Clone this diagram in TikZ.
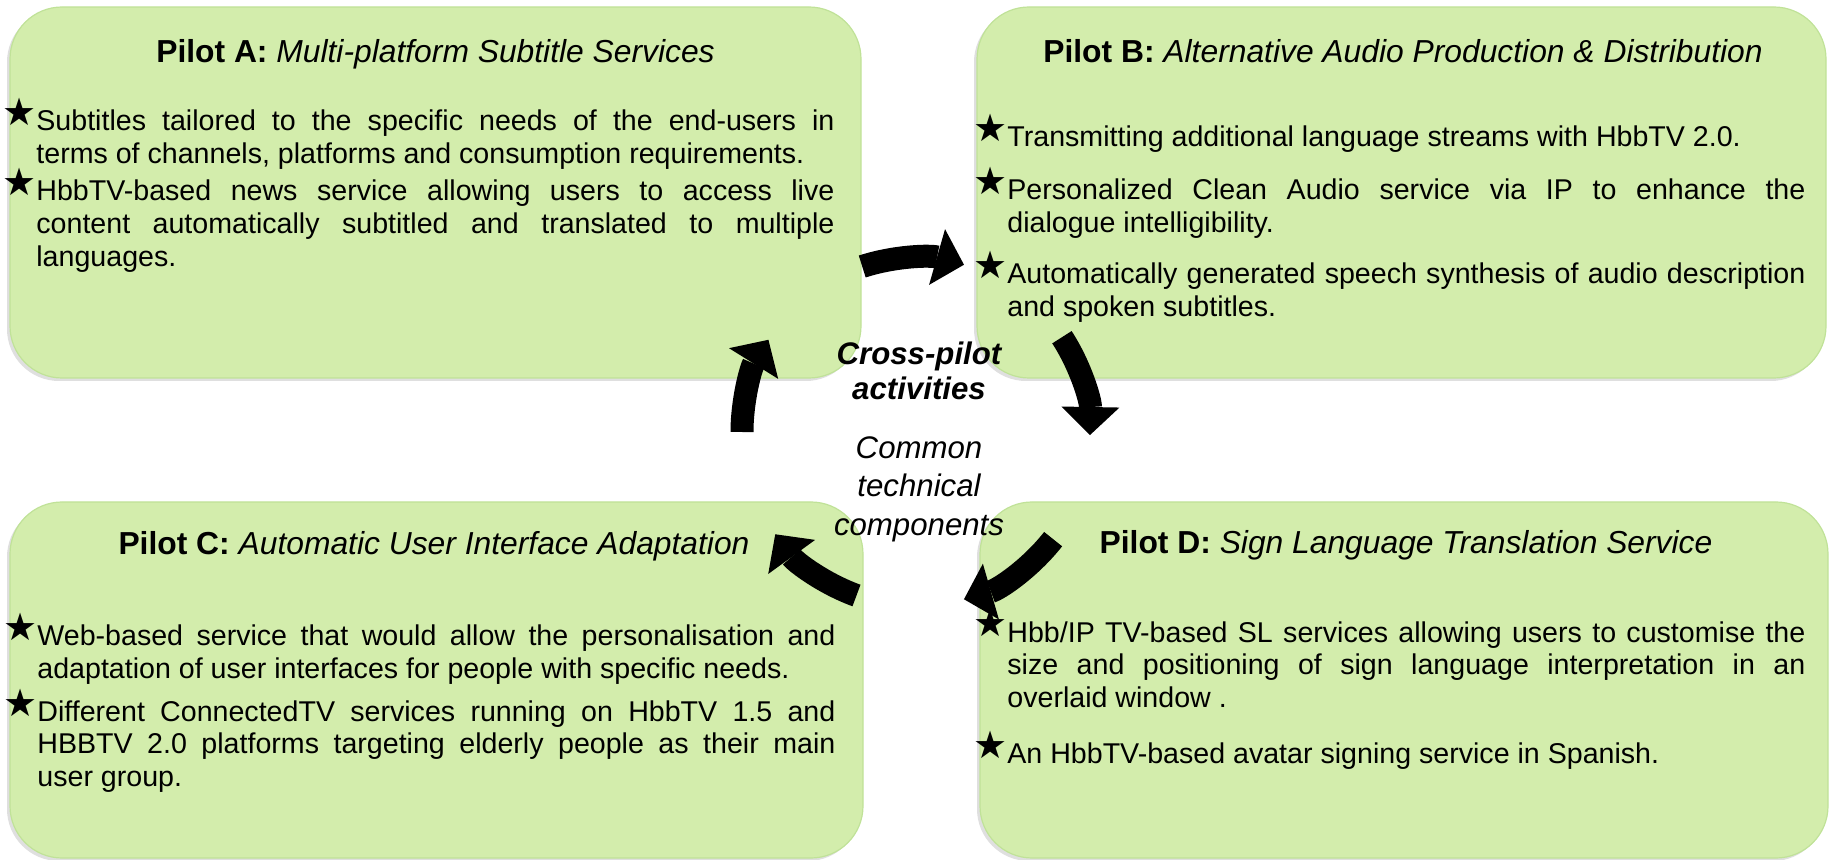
\documentclass[tikz,border=0pt]{standalone}
\usepackage{fontspec}
\setmainfont{Liberation Sans}
\newfontfamily\starfont{DejaVu Sans}
\usetikzlibrary{arrows.meta,shadows}
\definecolor{pilotfill}{RGB}{211,237,172}
\definecolor{pilotline}{RGB}{192,226,152}
\tikzset{
	pilot/.style={draw=pilotline, line width=0.6pt, fill=pilotfill, rounded corners=26pt, inner sep=0pt,
		drop shadow={shadow xshift=-1.5pt, shadow yshift=-1.5pt, opacity=0.25}},
	pilottitle/.style={inner sep=0pt, anchor=base, font=\fontsize{15.9}{18}\selectfont},
	item/.style={inner sep=0pt, anchor=base west, text width=399pt, align=justify,
		font=\fontsize{14.3}{16.4}\selectfont},
	hub/.style={inner sep=0pt, align=center, font=\fontsize{15.6}{17.5}\selectfont\bfseries\itshape},
	hubsub/.style={inner sep=0pt, align=center, font=\fontsize{15.6}{19.3}\selectfont\itshape},
	cycle arrow/.style={line width=11.5pt, -{Triangle[width=29pt,length=14pt,line width=0pt]}},
}
\hyphenpenalty=10000
\exhyphenpenalty=10000
\newcommand{\staritem}{\noindent\llap{\raisebox{2.5pt}{\starfont\fontsize{19}{19}\selectfont ★}}}

\begin{document}
\begin{tikzpicture}[x=0.5pt,y=-0.5pt]
	% whole page, in pixels
	\useasboundingbox (0,0) rectangle (1831,860);
	
	% the four pilot boxes
	\node[pilot, minimum width=425.5pt, minimum height=185.5pt] (pilotA) at (435.5,192.5) {};
	\node[pilot, minimum width=424.5pt, minimum height=185.5pt] (pilotB) at (1401.5,192.5) {};
	\node[pilot, minimum width=426.5pt, minimum height=178pt] (pilotC) at (436.5,680) {};
	\node[pilot, minimum width=424pt, minimum height=178pt] (pilotD) at (1404,680) {};
	
	% titles
	\node[pilottitle] (titleA) at (435.5,63) {\textbf{Pilot A:} \textit{Multi-platform Subtitle Services}};
	\node[pilottitle] (titleB) at (1403,63) {\textbf{Pilot B:} \textit{Alternative Audio Production \& Distribution}};
	\node[pilottitle] (titleC) at (434,555) {\textbf{Pilot C:} \textit{Automatic User Interface Adaptation}};
	\node[pilottitle] (titleD) at (1406,554) {\textbf{Pilot D:} \textit{Sign Language Translation Service}};
	
	% Pilot A items
	\node[item] (itemA1) at (36,131) {\staritem Subtitles tailored to the specific needs of the end-users in\linebreak terms of channels, platforms and consumption requirements.};
	\node[item] (itemA2) at (36,201) {\staritem HbbTV-based news service allowing users to access live\linebreak content automatically subtitled and translated to multiple\linebreak languages.};
	
	% Pilot B items
	\node[item] (itemB1) at (1007,147) {\staritem Transmitting additional language streams with HbbTV 2.0.};
	\node[item] (itemB2) at (1007,200) {\staritem Personalized Clean Audio service via IP to enhance the\linebreak dialogue intelligibility.};
	\node[item] (itemB3) at (1007,284) {\staritem Automatically generated speech synthesis of audio description\linebreak and spoken subtitles.};
	
	% Pilot C items
	\node[item] (itemC1) at (37,646) {\staritem Web-based service that would allow the personalisation and\linebreak adaptation of user interfaces for people with specific needs.};
	\node[item] (itemC2) at (37,721) {\staritem Different ConnectedTV services running on HbbTV 1.5 and\linebreak HBBTV 2.0 platforms targeting elderly people as their main\linebreak user group.};
	
	% Pilot D items
	\node[item] (itemD1) at (1007,642) {\staritem Hbb/IP TV-based SL services allowing users to customise the\linebreak size and positioning of sign language interpretation in an\linebreak overlaid window .};
	\node[item] (itemD2) at (1007,763) {\staritem An HbbTV-based avatar signing service in Spanish.};
	
	% cycle arrows round the centre
	\coordinate (ring) at (916,432);
	\def\ringrad{174}
	\foreach \s/\e in {-108/-74, -33/1, 38/74, 110/144, 180/212} {
		\draw[cycle arrow] (ring) ++(\s:\ringrad) arc[start angle=\s, end angle=\e, radius=\ringrad];
	}
	
	% centre text
	\node[hub] (hub) at (919,371) {Cross-pilot\\activities};
	\node[hubsub] (common) at (919,489) {Common\\technical\\components};
	
\end{tikzpicture}
\end{document}
